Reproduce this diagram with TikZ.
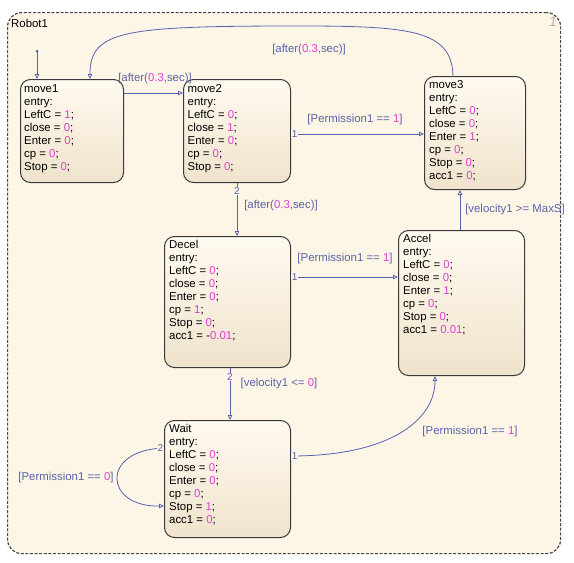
\documentclass[tikz,border=0pt]{standalone}
\usepackage{fontspec}
\setmainfont{Liberation Sans}
\usetikzlibrary{arrows.meta}

\definecolor{chartbg}{HTML}{FDF5E6}
\definecolor{chartedge}{HTML}{484848}
\definecolor{stTop}{HTML}{FFFAF0}
\definecolor{stBot}{HTML}{EFE3CC}
\definecolor{stEdge}{HTML}{3A3A3A}
\definecolor{trans}{HTML}{5862B2}
\definecolor{lbl}{HTML}{5A64A8}
\definecolor{val}{HTML}{E040D0}
\newcommand\vl[1]{\textcolor{val}{#1}}

\tikzset{
  chart/.style={draw=chartedge, line width=1.2pt, dash pattern=on 3pt off 1.6pt,
    rounded corners=14pt, fill=chartbg, anchor=north west, inner sep=0pt},
  state/.style={draw=stEdge, line width=1pt, rounded corners=10pt,
    top color=stTop, bottom color=stBot, anchor=north west, inner sep=0pt},
  stext/.style={anchor=north west, inner sep=0pt, align=left,
    font=\fontsize{11.4}{13}\selectfont},
  tr/.style={draw=trans, line width=0.8pt,
    -{Triangle[open, length=5pt, width=4.5pt]}},
  pri/.style={text=lbl, fill=chartbg, inner sep=0.5pt,
    font=\fontsize{10}{10}\selectfont},
  lab/.style={text=lbl, inner sep=0pt, font=\fontsize{11.4}{13}\selectfont},
}

\begin{document}
\begin{tikzpicture}[x=1pt, y=-1pt]
\path[use as bounding box] (0,0) rectangle (574,563);
\fill[white] (0,0) rectangle (574,563);

% chart container
\node[chart, minimum width=553pt, minimum height=541pt] (robot) at (7,12) {};
\node[anchor=base west, inner sep=0pt, font=\fontsize{11.4}{13}\selectfont] (robotlbl) at (11,27) {Robot1};
\node[text=black!30, inner sep=0pt, font=\itshape\fontsize{14}{14}\selectfont] (chartnum) at (553,22) {1};

% states
\node[state, minimum width=103pt, minimum height=103pt] (move1) at (20,79) {};
\node[state, minimum width=107pt, minimum height=103pt] (move2) at (183,79) {};
\node[state, minimum width=101pt, minimum height=113pt] (move3) at (424,76) {};
\node[state, minimum width=126pt, minimum height=131pt] (decel) at (164,236) {};
\node[state, minimum width=126pt, minimum height=145pt] (accel) at (398,230) {};
\node[state, minimum width=126pt, minimum height=117pt] (wait) at (164,420) {};

\node[stext] (move1txt) at ([shift={(4,5)}]move1.north west)
  {move1\\entry:\\LeftC = \vl{1};\\close = \vl{0};\\Enter = \vl{0};\\cp = \vl{0};\\Stop = \vl{0};};
\node[stext] (move2txt) at ([shift={(4.5,5)}]move2.north west)
  {move2\\entry:\\LeftC = \vl{0};\\close = \vl{1};\\Enter = \vl{0};\\cp = \vl{0};\\Stop = \vl{0};};
\node[stext] (move3txt) at ([shift={(5,4.5)}]move3.north west)
  {move3\\entry:\\LeftC = \vl{0};\\close = \vl{0};\\Enter = \vl{1};\\cp = \vl{0};\\Stop = \vl{0};\\acc1 = \vl{0};};
\node[stext] (deceltxt) at ([shift={(5,4.5)}]decel.north west)
  {Decel\\entry:\\LeftC = \vl{0};\\close = \vl{0};\\Enter = \vl{0};\\cp = \vl{1};\\Stop = \vl{0};\\acc1 = -\vl{0.01};};
\node[stext] (acceltxt) at ([shift={(5,4.5)}]accel.north west)
  {Accel\\entry:\\LeftC = \vl{0};\\close = \vl{0};\\Enter = \vl{1};\\cp = \vl{0};\\Stop = \vl{0};\\acc1 = \vl{0.01};};
\node[stext] (waittxt) at ([shift={(5,4.5)}]wait.north west)
  {Wait\\entry:\\LeftC = \vl{0};\\close = \vl{0};\\Enter = \vl{0};\\cp = \vl{0};\\Stop = \vl{1};\\acc1 = \vl{0};};

% default transition
\coordinate (init) at (37,51);
\fill[trans] (init) circle (1.5pt);
\draw[tr] (init) -- (move1.north -| init);

% transitions
\draw[tr] (move1.east |- 0,93) -- (move2.west |- 0,93);
\draw[tr] (move3.north -| 453,0) .. controls (452,30) and (410,26) .. (300,26)
  .. controls (125,26) and (90,30) .. (move1.north -| 90,0);
\draw[tr] (move2.east |- 0,134) -- node[pri, at start, anchor=west] (p23) {1} (move3.west |- 0,134);
\draw[tr] (move2.south -| 237,0) -- node[pri, pos=0.16] (p2d) {2} (decel.north -| 237,0);
\draw[tr] (decel.east |- 0,277) -- node[pri, at start, anchor=west] (pda) {1} (accel.west |- 0,277);
\draw[tr] (accel.north -| 460,0) -- (move3.south -| 460,0);
\draw[tr] (decel.south -| 230,0) -- node[pri, pos=0.17] (pdw) {2} (wait.north -| 230,0);
\draw[tr] (wait.east |- 0,456) .. controls (390,456) and (435,420) ..
  node[pri, at start, anchor=west] (pwa) {1} (accel.south -| 435,0);
\draw[tr] (wait.west |- 0,448) .. controls (100,450) and (104,507) ..
  node[pri, at start, anchor=east] (pww) {2} (wait.west |- 0,506);

% guard labels
\node[lab] (g31) at (309,50) {[after(\vl{0.3},sec)]};
\node[lab] (g12) at (155,79) {[after(\vl{0.3},sec)]};
\node[lab] (g23) at (355,120) {[Permission1 == \vl{1}]};
\node[lab] (g2d) at (281,206) {[after(\vl{0.3},sec)]};
\node[lab] (gda) at (345,259) {[Permission1 == \vl{1}]};
\node[lab] (ga3) at (515,210) {[velocity1 >= MaxS]};
\node[lab] (gdw) at (279,384) {[velocity1 <= \vl{0}]};
\node[lab] (gwa) at (470,432) {[Permission1 == \vl{1}]};
\node[lab] (gww) at (66,478) {[Permission1 == \vl{0}]};
\end{tikzpicture}
\end{document}
